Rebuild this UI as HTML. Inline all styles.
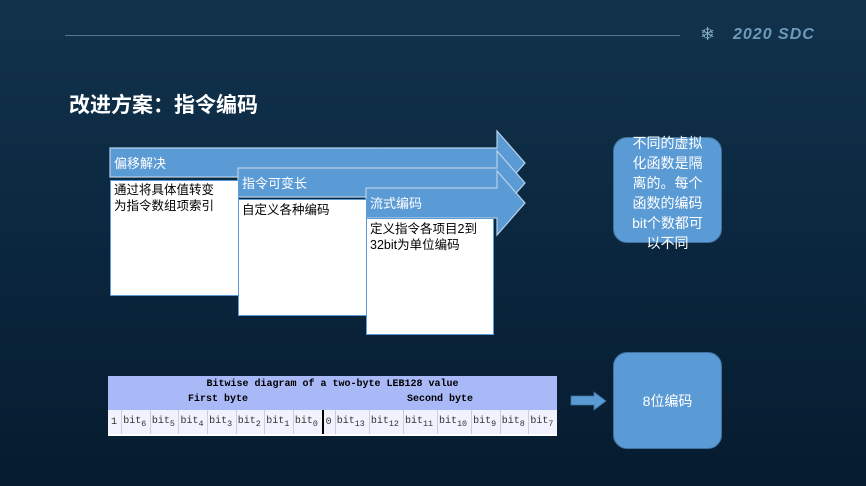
<!DOCTYPE html>
<html><head><meta charset="utf-8"><style>
html,body{margin:0;padding:0}
body{width:866px;height:486px;position:relative;overflow:hidden;background:linear-gradient(180deg,#12324c 0%,#0b2840 45%,#061b2f 100%);font-family:"Liberation Sans","Noto Sans CJK SC","WenQuanYi Zen Hei",sans-serif}
.a{position:absolute}
.box{position:absolute;background:#fff;border:1.5px solid #5b9bd5;box-sizing:border-box}
.t{position:absolute;z-index:5;font-size:12.5px;color:#000;line-height:16px;white-space:nowrap;font-family:"Liberation Sans","Noto Sans CJK SC","WenQuanYi Zen Hei",sans-serif}
.lbl{position:absolute;color:#fff;font-size:13px}
.rb{position:absolute;background:#5b9bd5;border:1px solid #41719c;border-radius:14px;box-sizing:border-box;color:#fff;text-align:center}
table{border-collapse:collapse;font-family:"Liberation Mono","Noto Sans CJK SC",monospace;font-size:10px}
</style></head><body>
<div class="a" style="left:65px;top:35px;width:615px;height:1px;background:#4f7592"></div>
<div class="a" style="left:700px;top:24px;color:#7fa9c4;font-size:18px">❄</div>
<div class="a" style="left:733px;top:26px;color:#6d9ab8;font-size:16px;font-weight:bold;font-style:italic;letter-spacing:1px">2020 SDC</div>
<div class="a" style="left:69px;top:89px;color:#fff;font-size:21px;font-weight:bold;font-family:'Noto Sans CJK SC',sans-serif">改进方案：指令编码</div>

<svg class="a" style="left:0;top:0" width="866" height="486">
<g fill="#5b9bd5" stroke="#b8d0e8" stroke-width="1.2">
<polygon points="110,148 497,148 497,131 525,163 497,195 497,177 110,177"/>
<polygon points="238,168 497,168 497,151 525,183 497,215 497,197 238,197"/>
<polygon points="366,188 497,188 497,171 525,203 497,235 497,218 366,218"/>
<polygon points="571,396 594,396 594,392 606,401 594,410 594,405 571,405" stroke="#41719c" stroke-width="0.8"/>
</g>
</svg>
<div class="box" style="left:110px;top:180px;width:129px;height:116px"></div>
<div class="box" style="left:238px;top:199px;width:129px;height:117px"></div>
<div class="box" style="left:366px;top:218px;width:128px;height:117px"></div>
<div class="t" style="left:114px;top:182px">通过将具体值转变<br>为指令数组项索引</div>
<div class="t" style="left:242px;top:202px">自定义各种编码</div>
<div class="t" style="left:370px;top:221px">定义指令各项目2到<br>32bit为单位编码</div>
<div class="lbl" style="left:114px;top:153px">偏移解决</div>
<div class="lbl" style="left:242px;top:173px">指令可变长</div>
<div class="lbl" style="left:370px;top:193px">流式编码</div>

<div class="rb" style="left:613px;top:137px;width:109px;height:106px;font-size:14px;line-height:20px;padding:0 16px">
<div style="margin-top:-5px">不同的虚拟化函数是隔离的。每个函数的编码bit个数都可以不同</div></div>
<div class="rb" style="left:613px;top:352px;width:109px;height:97px;font-size:14px;line-height:97px">8位编码</div>

<div class="a" style="left:108px;top:376px;width:449px;height:60px;background:#fff;overflow:hidden">
<div style="background:#a9b8f6;height:34px;font-family:'Liberation Mono',monospace;font-size:10px;font-weight:bold;color:#000;position:relative">
<div style="position:absolute;left:0;right:0;top:3px;text-align:center">Bitwise diagram of a two-byte LEB128 value</div>
<div style="position:absolute;left:80px;top:18px">First byte</div>
<div style="position:absolute;left:299px;top:18px">Second byte</div>
</div>
<table style="width:449px;height:24px;background:#f1f2fd">
<tr style="color:#333">
<td style="border-right:1px solid #ccd;padding:0 3px">1</td>
<td style="border-right:1px solid #ccd">bit<sub>6</sub></td><td style="border-right:1px solid #ccd">bit<sub>5</sub></td><td style="border-right:1px solid #ccd">bit<sub>4</sub></td><td style="border-right:1px solid #ccd">bit<sub>3</sub></td><td style="border-right:1px solid #ccd">bit<sub>2</sub></td><td style="border-right:1px solid #ccd">bit<sub>1</sub></td><td style="border-right:2px solid #000">bit<sub>0</sub></td>
<td style="border-right:1px solid #ccd;padding:0 2px">0</td>
<td style="border-right:1px solid #ccd">bit<sub>13</sub></td><td style="border-right:1px solid #ccd">bit<sub>12</sub></td><td style="border-right:1px solid #ccd">bit<sub>11</sub></td><td style="border-right:1px solid #ccd">bit<sub>10</sub></td><td style="border-right:1px solid #ccd">bit<sub>9</sub></td><td style="border-right:1px solid #ccd">bit<sub>8</sub></td><td>bit<sub>7</sub></td>
</tr></table>
</div>
</body></html>
